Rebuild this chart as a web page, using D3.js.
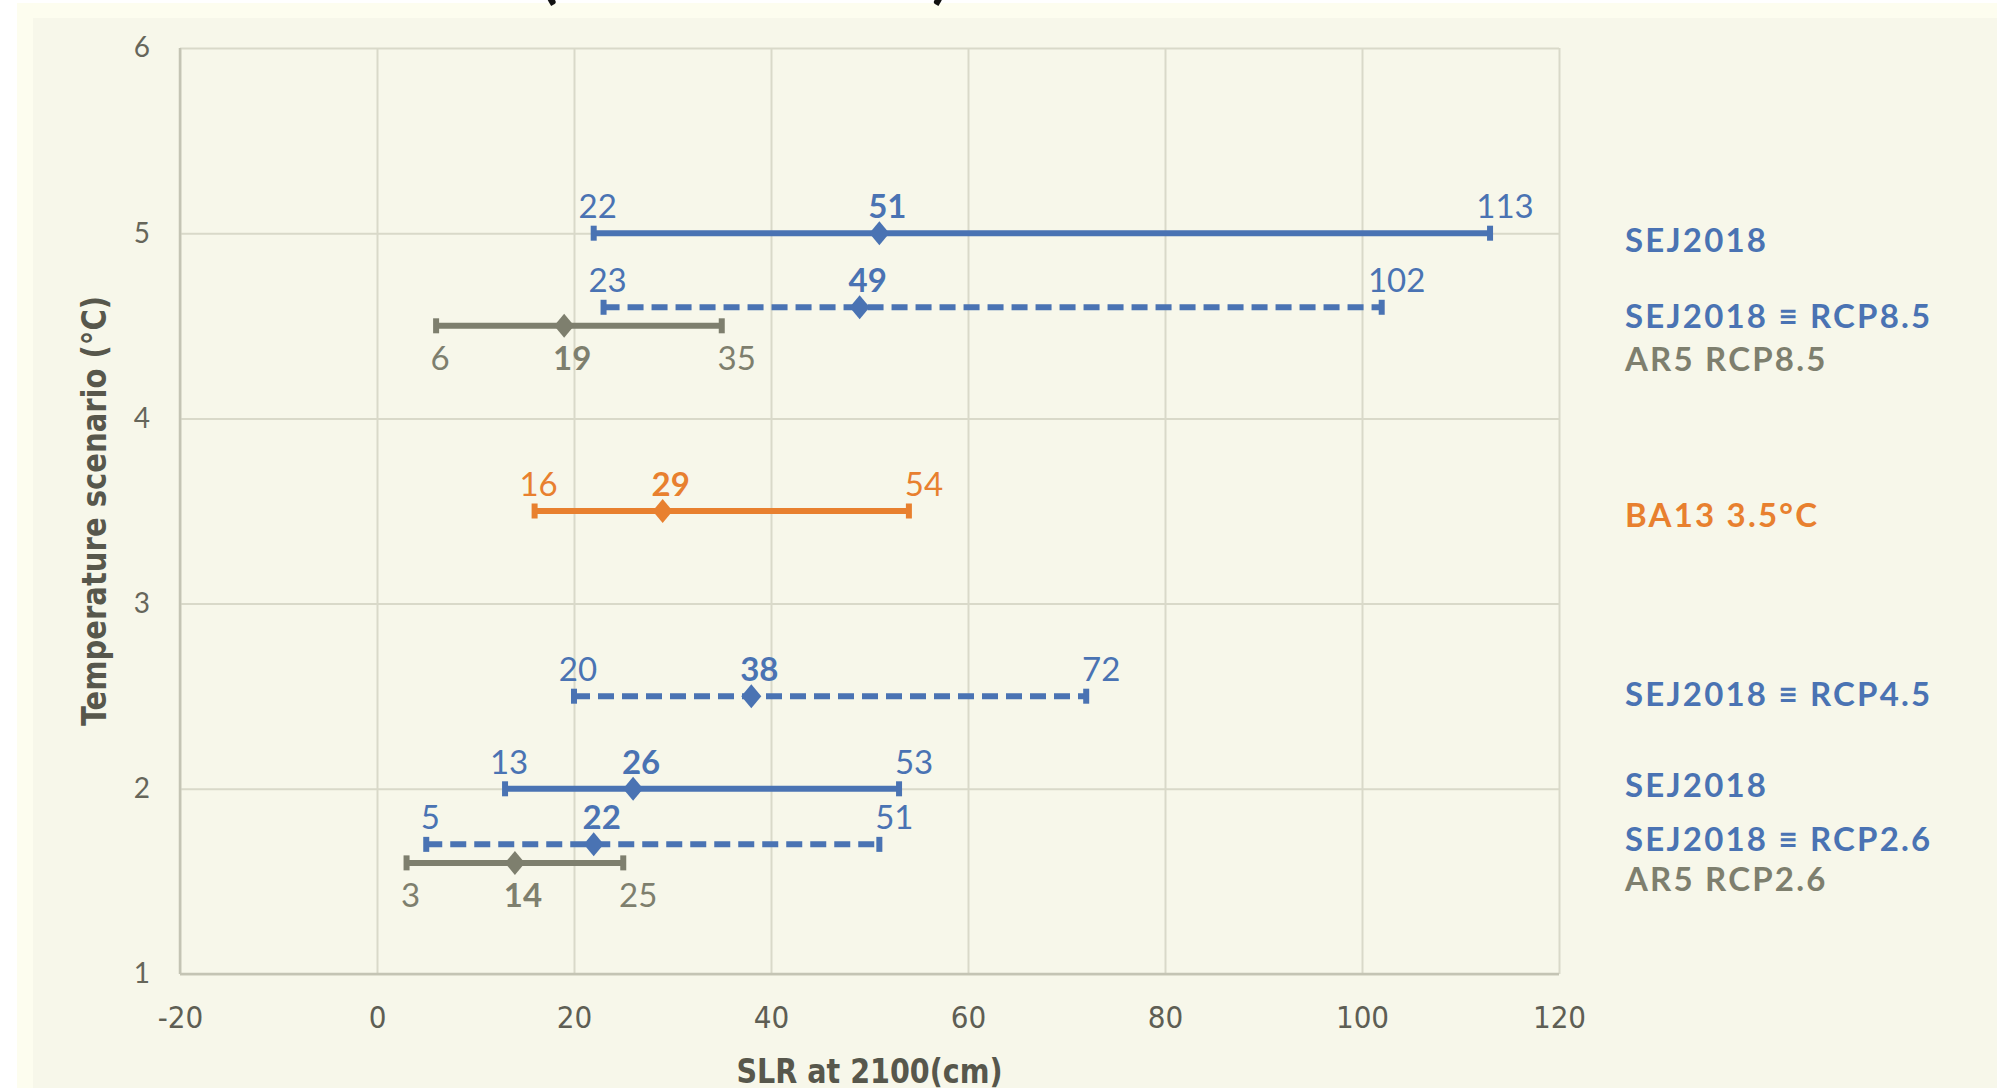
<!DOCTYPE html>
<html>
<head>
<meta charset="utf-8">
<script src="https://cdn.jsdelivr.net/npm/d3@7"></script>
<style>
  html, body { margin: 0; padding: 0; background: #ffffff; }
  svg { display: block; }
</style>
</head>
<body>
<div class="chart"></div>
<script>
// data
var names = ["SEJ2018", "SEJ2018 \u2261 RCP8.5", "AR5 RCP8.5", "BA13 3.5\u00b0C",
             "SEJ2018 \u2261 RCP4.5", "SEJ2018", "SEJ2018 \u2261 RCP2.6", "AR5 RCP2.6"];
var temps = [5, 4.6, 4.5, 3.5, 2.5, 2, 1.7, 1.6];
var lows  = [22, 23, 6, 16, 20, 13, 5, 3];
var mids  = [51, 49, 19, 29, 38, 26, 22, 14];
var highs = [113, 102, 35, 54, 72, 53, 51, 25];
var kinds = ["sej", "rcp", "ar5", "ba13", "rcp", "sej", "rcp", "ar5"];
var nameY = [4.96, 4.55, 4.32, 3.48, 2.51, 2.02, 1.73, 1.51];   // where the right-hand names sit
var xTicks = [-20, 0, 20, 40, 60, 80, 100, 120];
var yTicks = [1, 2, 3, 4, 5, 6];

var W = 1997, H = 1088;
var margin = {left: 180, right: 438, top: 48, bottom: 114};

var style = {
  sej:  {color: "#4a73b3", dash: null,   below: false},
  rcp:  {color: "#4a73b3", dash: "16,8", below: false},
  ar5:  {color: "#7e7f6e", dash: null,   below: true},
  ba13: {color: "#e8802f", dash: null,   below: false}
};

var svg = d3.select(".chart").append("svg")
    .attr("width", W)
    .attr("height", H);

// backgrounds
svg.append("rect").attr("x", 17).attr("y", 3).attr("width", W - 17).attr("height", H - 3).attr("fill", "#fdfdef");
svg.append("rect").attr("x", 33).attr("y", 18).attr("width", W - 33).attr("height", H - 18).attr("fill", "#f7f7ea");

// what is left of the title above the frame
svg.append("text").attr("x", 540).attr("y", -4).attr("font-family", "Lato, sans-serif")
    .attr("font-size", 64).attr("font-weight", "bold").attr("fill", "#111").text("(");
svg.append("text").attr("x", 932).attr("y", -4).attr("font-family", "Lato, sans-serif")
    .attr("font-size", 64).attr("font-weight", "bold").attr("fill", "#111").text(")");

var x = d3.scaleLinear().domain([-20, 120]).range([margin.left, W - margin.right]);
var y = d3.scaleLinear().domain([1, 6]).range([H - margin.bottom, margin.top]);

// grid
svg.append("g")
    .attr("transform", "translate(0," + y(1) + ")")
    .call(d3.axisBottom(x).tickValues(xTicks).tickSize(-(y(1) - y(6))).tickFormat(""))
    .call(g => g.select(".domain").remove())
    .call(g => g.selectAll("line").attr("stroke", "#d9d9c9").attr("stroke-width", 2));
svg.append("g")
    .attr("transform", "translate(" + x(-20) + ",0)")
    .call(d3.axisLeft(y).tickValues(yTicks).tickSize(-(x(120) - x(-20))).tickFormat(""))
    .call(g => g.select(".domain").remove())
    .call(g => g.selectAll("line").attr("stroke", "#d9d9c9").attr("stroke-width", 2));

// axis lines
svg.append("line").attr("x1", x(-20)).attr("x2", x(120)).attr("y1", y(1)).attr("y2", y(1))
    .attr("stroke", "#c4c4b4").attr("stroke-width", 2.5);
svg.append("line").attr("x1", x(-20)).attr("x2", x(-20)).attr("y1", y(1)).attr("y2", y(6))
    .attr("stroke", "#c4c4b4").attr("stroke-width", 2.5);

// tick labels
svg.append("g")
    .attr("transform", "translate(0," + y(1) + ")")
    .call(d3.axisBottom(x).tickValues(xTicks).tickSize(0).tickPadding(32).tickFormat(d => String(d)))
    .call(g => g.select(".domain").remove())
    .call(g => g.selectAll("text")
        .attr("font-family", "'Liberation Sans Narrow', 'DejaVu Sans Condensed', sans-serif")
        .attr("font-size", 31).attr("fill", "#5e5e54"));
svg.append("g")
    .attr("transform", "translate(" + x(-20) + ",0)")
    .call(d3.axisLeft(y).tickValues(yTicks).tickSize(0).tickPadding(30).tickFormat(d3.format("d")))
    .call(g => g.select(".domain").remove())
    .call(g => g.selectAll("text")
        .attr("font-family", "Lato, sans-serif")
        .attr("font-size", 28).attr("fill", "#66665a"));

// axis titles
svg.append("text")
    .attr("transform", "translate(106," + y(3.5) + ") rotate(-90)")
    .attr("text-anchor", "middle")
    .attr("font-family", "'Liberation Sans Narrow', 'DejaVu Sans Condensed', sans-serif")
    .attr("font-weight", "bold").attr("font-size", 34).attr("fill", "#57574c")
    .attr("textLength", 430).attr("lengthAdjust", "spacingAndGlyphs")
    .text("Temperature scenario (\u00b0C)");
svg.append("text")
    .attr("x", (x(-20) + x(120)) / 2).attr("y", 1083)
    .attr("text-anchor", "middle")
    .attr("font-family", "'Liberation Sans Narrow', 'DejaVu Sans Condensed', sans-serif")
    .attr("font-weight", "bold").attr("font-size", 34).attr("fill", "#57574c")
    .attr("textLength", 266).attr("lengthAdjust", "spacingAndGlyphs")
    .text("SLR at 2100(cm)");

// ranges
var rows = names.map((n, i) => ({name: n, t: temps[i], lo: lows[i], mid: mids[i], hi: highs[i],
                                 s: style[kinds[i]], ny: nameY[i]}));

var row = svg.selectAll("g.row").data(rows).join("g").attr("class", "row");

row.append("line")
    .attr("x1", d => x(d.lo)).attr("x2", d => x(d.hi))
    .attr("y1", d => y(d.t)).attr("y2", d => y(d.t))
    .attr("stroke", d => d.s.color).attr("stroke-width", 6)
    .attr("stroke-dasharray", d => d.s.dash);

// end caps
row.selectAll("rect.cap").data(d => [d.lo, d.hi].map(v => ({v: v, d: d}))).join("rect")
    .attr("class", "cap")
    .attr("x", c => x(c.v) - 3).attr("y", c => y(c.d.t) - 7.5)
    .attr("width", 6).attr("height", 15)
    .attr("fill", c => c.d.s.color);

// diamond at the central value
row.append("path")
    .attr("d", d => {
      var cx = x(d.mid), cy = y(d.t);
      return "M" + cx + "," + (cy - 12) + "L" + (cx + 10) + "," + cy + "L" + cx + "," + (cy + 12) + "L" + (cx - 10) + "," + cy + "Z";
    })
    .attr("fill", d => d.s.color);

// value labels
var shift = [4, 8, 15];
row.selectAll("text.val").data(d => [d.lo, d.mid, d.hi].map((v, k) => ({v: v, k: k, d: d}))).join("text")
    .attr("class", "val")
    .attr("x", c => x(c.v) + shift[c.k])
    .attr("y", c => y(c.d.t) + (c.d.s.below ? 44 : -15))
    .attr("text-anchor", "middle")
    .attr("font-family", "Lato, sans-serif")
    .attr("font-size", 33)
    .attr("font-weight", c => c.k === 1 ? "bold" : "normal")
    .attr("fill", c => c.d.s.color)
    .text(c => c.v);

// names on the right
svg.selectAll("text.name").data(rows).join("text")
    .attr("class", "name")
    .attr("x", 1625)
    .attr("y", d => y(d.ny))
    .attr("dy", "0.36em")
    .attr("font-family", "Lato, 'DejaVu Sans', sans-serif")
    .attr("font-weight", "bold")
    .attr("font-size", 33)
    .attr("letter-spacing", 2.2)
    .attr("fill", d => d.s.color)
    .text(d => d.name);
</script>
</body>
</html>
